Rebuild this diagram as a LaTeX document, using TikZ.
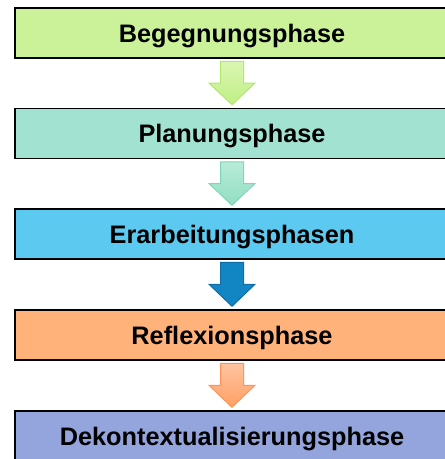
\documentclass[tikz,border=0pt]{standalone}
\usepackage{fontspec}
\setmainfont{Liberation Sans}
\usetikzlibrary{calc}
\definecolor{cA}{RGB}{204,242,153}
\definecolor{cB}{RGB}{161,226,208}
\definecolor{cC}{RGB}{92,201,240}
\definecolor{cD}{RGB}{255,178,122}
\definecolor{cE}{RGB}{148,164,220}
\definecolor{aAt}{RGB}{218,246,178}
\definecolor{aAb}{RGB}{192,239,132}
\definecolor{aAd}{RGB}{178,232,112}
\definecolor{aBt}{RGB}{184,236,216}
\definecolor{aBb}{RGB}{146,222,194}
\definecolor{aBd}{RGB}{128,214,182}
\definecolor{aCf}{RGB}{18,134,195}
\definecolor{aCd}{RGB}{14,110,165}
\definecolor{aDt}{RGB}{255,196,160}
\definecolor{aDb}{RGB}{255,160,100}
\definecolor{aDd}{RGB}{255,146,84}
\tikzset{
  phasebox/.style={draw=black, line width=1.5pt, rectangle, minimum width=434pt,
    minimum height=50pt, inner sep=0pt, font=\fontsize{25.3}{29}\selectfont\bfseries,
    text height=18pt, text depth=0pt},
  blockarr/.style={line width=1pt, line join=miter}
}
\newcommand{\blockarrow}[4]{%
  \coordinate (#1s) at ($(#2.south)+(0,2.5)$);
  \coordinate (#1t) at ($(#3.north)+(0,-3)$);
  \coordinate (#1m) at ($(#1s)!0.5!(#1t)$);
  \path[blockarr, #4] ($(#1s)+(-11.5,0)$) -- ($(#1s)+(11.5,0)$) -- ($(#1m)+(11.5,0)$)
    -- ($(#1m)+(23,0)$) -- (#1t) -- ($(#1m)+(-23,0)$) -- ($(#1m)+(-11.5,0)$) -- cycle;
}
\begin{document}
\begin{tikzpicture}[x=1pt,y=-1pt]
\useasboundingbox (0,0) rectangle (445,459);
\clip (0,0) rectangle (445,459);
\node[phasebox, fill=cA] (b1) at (232,33) {Begegnungsphase};
\node[phasebox, fill=cB] (b2) at (232,133.5) {Planungsphase};
\node[phasebox, fill=cC] (b3) at (232,234) {Erarbeitungsphasen};
\node[phasebox, fill=cD] (b4) at (232,335) {Reflexionsphase};
\node[phasebox, fill=cE] (b5) at (232,436) {Dekontextualisierungsphase};
\blockarrow{a1}{b1}{b2}{draw=aAd, top color=aAt, bottom color=aAb}
\blockarrow{a2}{b2}{b3}{draw=aBd, top color=aBt, bottom color=aBb}
\blockarrow{a3}{b3}{b4}{draw=aCd, fill=aCf}
\blockarrow{a4}{b4}{b5}{draw=aDd, top color=aDt, bottom color=aDb}
\end{tikzpicture}
\end{document}
